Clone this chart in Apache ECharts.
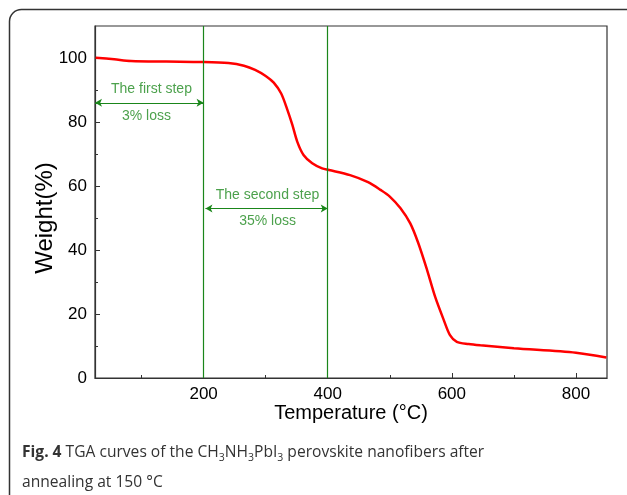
<!DOCTYPE html>
<html>
<head>
<meta charset="utf-8">
<script src="https://cdn.jsdelivr.net/npm/echarts@6/dist/echarts.min.js"></script>
<style>
  html, body { margin: 0; padding: 0; background: #fff; }
  #chart { width: 627px; height: 495px; }
</style>
</head>
<body>
<div id="chart"></div>
<script>
// TGA curve: [temperature (°C), weight (%)]
var tgaCurve = [
    [26, 100.1], [56, 99.6], [83, 99.1], [140, 98.9], [198, 98.75],
    [240, 98.4], [265, 97.6], [283, 96.3], [300, 94.4], [313, 92.3],
    [325, 88.9], [335, 83.8], [343, 79.1], [351, 73.8], [361, 69.7],
    [375, 67.1], [391, 65.5], [402, 65.0], [436, 63.4], [465, 61.2],
    [485, 58.8], [500, 56.7], [517, 53.1], [533, 48.3], [546, 42.1],
    [560, 33.8], [573, 25.4], [587, 18.1], [597, 13.4], [608, 11.3],
    [627, 10.6], [646, 10.2], [700, 9.3], [800, 7.9], [849, 6.4]
];

var xTicks = [200, 400, 600, 800];
var xMinorTicks = [100, 300, 500, 700];
var yTicks = [0, 20, 40, 60, 80, 100];
var yMinorTicks = [10, 30, 50, 70, 90];

// step boundaries (vertical green lines)
var stepLines = [200, 400];
// double arrows: [x0, x1, y]
var stepArrows = [
    [25, 200, 86],
    [203, 400, 53]
];
// annotation text: [x, y, text]
var stepNotes = [
    [116, 90.3, 'The first step'],
    [108, 81.9, '3% loss'],
    [303, 57.2, 'The second step'],
    [303, 49, '35% loss']
];

var green = '#1a861a';
var axisColor = '#333';
var font = '"Liberation Sans", Arial, sans-serif';
var capFont = '"Open Sans", sans-serif';

var chart = echarts.init(document.getElementById('chart'));

var arrowLines = stepArrows.map(function (a) {
    return [{coord: [a[0], a[2]]}, {coord: [a[1], a[2]]}];
});
var verticalLines = stepLines.map(function (x) {
    return {xAxis: x};
});

var option = {
    animation: false,
    grid: {
        left: 95, top: 26, right: 20, bottom: 117,
        show: true, borderColor: axisColor, borderWidth: 1.2
    },
    xAxis: [{
        type: 'value', min: 25, max: 850,
        axisLine: {show: true, lineStyle: {color: axisColor, width: 1.2}},
        axisTick: {show: true, inside: true, length: 5, customValues: xTicks,
            lineStyle: {color: axisColor}},
        axisLabel: {customValues: xTicks, color: '#000', fontSize: 17,
            fontFamily: font, margin: 8},
        splitLine: {show: false}
    }, {
        type: 'value', min: 25, max: 850, position: 'bottom',
        axisLine: {show: false},
        axisTick: {show: true, inside: true, length: 3, customValues: xMinorTicks,
            lineStyle: {color: axisColor}},
        axisLabel: {show: false},
        splitLine: {show: false}
    }],
    yAxis: [{
        type: 'value', min: 0, max: 110,
        axisLine: {show: true, lineStyle: {color: axisColor, width: 1.2}},
        axisTick: {show: true, inside: true, length: 5, customValues: yTicks,
            lineStyle: {color: axisColor}},
        axisLabel: {customValues: yTicks, color: '#000', fontSize: 17,
            fontFamily: font, margin: 8},
        splitLine: {show: false}
    }, {
        type: 'value', min: 0, max: 110, position: 'left',
        axisLine: {show: false},
        axisTick: {show: true, inside: true, length: 3, customValues: yMinorTicks,
            lineStyle: {color: axisColor}},
        axisLabel: {show: false},
        splitLine: {show: false}
    }],
    series: [{
        type: 'line',
        data: tgaCurve,
        smooth: 0.3,
        showSymbol: false,
        z: 3,
        lineStyle: {color: '#ff0000', width: 2.5},
        markLine: {
            silent: true,
            symbol: ['arrow', 'arrow'],
            symbolSize: [6, 7],
            label: {show: false},
            lineStyle: {color: green, width: 1.2, type: 'solid'},
            data: arrowLines
        }
    }, {
        type: 'scatter',
        symbolSize: 0,
        z: 2,
        data: stepNotes,
        label: {
            show: true, position: 'inside',
            formatter: function (p) { return p.data[2]; },
            color: '#1f8a1f', fontSize: 14, fontFamily: font
        },
        markLine: {
            silent: true,
            symbol: 'none',
            label: {show: false},
            lineStyle: {color: green, width: 1.2, type: 'solid'},
            data: verticalLines
        }
    }],
    graphic: [{
        type: 'rect', z: -10, silent: true,
        shape: {x: 9.5, y: 9.5, width: 640, height: 540, r: 12},
        style: {fill: 'none', stroke: '#333', lineWidth: 1.5}
    }, {
        type: 'text', x: 351, y: 413,
        style: {text: 'Temperature (°C)', font: '20px ' + font, fill: '#000',
            align: 'center', verticalAlign: 'middle'}
    }, {
        type: 'text', x: 45, y: 218, rotation: Math.PI / 2,
        style: {text: 'Weight(%)', font: '24px ' + font, fill: '#000',
            align: 'center', verticalAlign: 'middle'}
    }, {
        type: 'text', x: 22, y: 453,
        style: {
            text: '{b|Fig. 4} TGA curves of the CH{s|3}NH{s|3}PbI{s|3} perovskite nanofibers after',
            font: '15.6px ' + capFont, fill: '#333', verticalAlign: 'middle',
            lineHeight: 22,
            rich: {
                b: {fontWeight: 'bold', fontSize: 15.6, fontFamily: capFont, fill: '#333', lineHeight: 22},
                s: {fontSize: 10.5, fontFamily: capFont, fill: '#333', verticalAlign: 'bottom', lineHeight: 14}
            }
        }
    }, {
        type: 'text', x: 22, y: 483,
        style: {text: 'annealing at 150 °C', font: '15.6px ' + capFont,
            fill: '#333', verticalAlign: 'middle'}
    }]
};

chart.setOption(option);
</script>
</body>
</html>
